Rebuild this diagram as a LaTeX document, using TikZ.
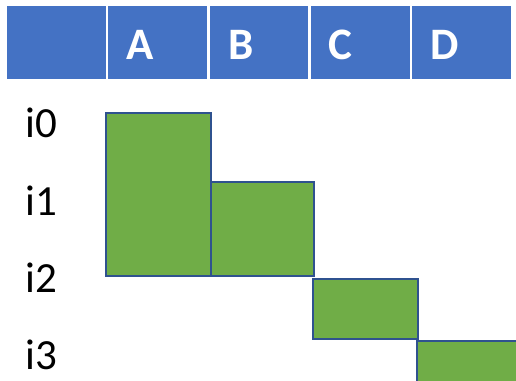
\documentclass[tikz,border=0pt]{standalone}
\usepackage{fontspec}
\setmainfont{Carlito}
\definecolor{hdr}{HTML}{4472C4}
\definecolor{grn}{HTML}{70AD47}
\definecolor{edge}{HTML}{2F528F}
\begin{document}
\begin{tikzpicture}[x=1pt,y=-1pt,
  hcell/.style={fill=hdr,draw=none},
  hlabel/.style={anchor=west,text=white,font=\fontsize{45}{50}\selectfont\bfseries,inner sep=0pt},
  rlabel/.style={anchor=base west,font=\fontsize{43}{48}\selectfont,inner sep=0pt},
  gbox/.style={fill=grn,draw=edge,line width=2pt}]
\useasboundingbox (0,0) rectangle (516,380);
\clip (0,0) rectangle (516,380);
% header
\path[hcell] (7,6) rectangle (106,79);
\path[hcell] (108,6) rectangle (207,79);
\path[hcell] (210,6) rectangle (308,79);
\path[hcell] (311,6) rectangle (410,79);
\path[hcell] (412,6) rectangle (511,79);
\node[hlabel] (hA) at (126,45) {A};
\node[hlabel] (hB) at (228,45) {B};
\node[hlabel] (hC) at (328,45) {C};
\node[hlabel] (hD) at (430,45) {D};
% row labels
\node[rlabel] (r0) at (25,137) {i0};
\node[rlabel] (r1) at (25,215) {i1};
\node[rlabel] (r2) at (25,292) {i2};
\node[rlabel] (r3) at (25,369) {i3};
% green boxes
\draw[gbox] (106,113) rectangle (210.5,276);
\draw[gbox] (210.5,182) rectangle (314,276);
\draw[gbox] (313,279) rectangle (418,339);
\draw[gbox] (417,341) rectangle (540,400);
\end{tikzpicture}
\end{document}
